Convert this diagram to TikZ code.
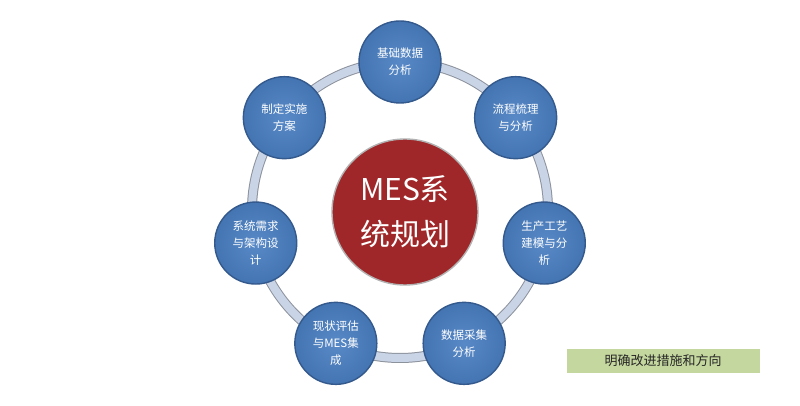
\documentclass[tikz,border=0pt]{standalone}
\usepackage{fontspec}
\setmainfont{Noto Sans CJK SC}
\definecolor{ringgray}{HTML}{8C929C}
\definecolor{ringfill}{HTML}{C9D4E6}
\definecolor{stepblue}{HTML}{4A7FC2}
\definecolor{stepedge}{HTML}{34598C}
\definecolor{hubred}{HTML}{9F2729}
\definecolor{notegreen}{HTML}{C4D79E}
\begin{document}
\begin{tikzpicture}[x=1pt,y=1pt,
   stepball/.style={circle, minimum size=82pt, inner sep=0pt,
      draw=stepedge, line width=1.4pt,
      shading=radial, inner color=stepblue!92!white, outer color=stepblue!92!black,
      text=white, font=\fontsize{11.5}{17}\selectfont, align=center},
   hubball/.style={circle, minimum size=146pt, inner sep=0pt,
      draw=gray!60, line width=1.4pt, fill=hubred,
      text=white, font=\fontsize{30}{45}\selectfont, align=center},
   notebox/.style={fill=notegreen, minimum width=193pt, minimum height=24pt,
      font=\fontsize{13}{15}\selectfont, text=black!85}]

\useasboundingbox (-400,-196) rectangle (400,210);
\fill[white] (-400,-196) rectangle (400,210);

% ring
\draw[ringgray, line width=1pt, double=ringfill, double distance=8pt] (0,0) circle (148);

\node[hubball] (hub) at (5,-2) {MES系\\统规划};

\node[stepball] (jichu)  at (90:148)     {基础数据\\分析};
\node[stepball] (liucheng) at (38.6:148) {流程梳理\\与分析};
\node[stepball] (jianmo) at (-12.9:148)  {生产工艺\\建模与分\\析};
\node[stepball] (caiji)  at (-64.3:148)  {数据采集\\分析};
\node[stepball] (xianzhuang) at (-115.7:148) {现状评估\\与MES集\\成};
\node[stepball] (xuqiu)  at (-167.1:148) {系统需求\\与架构设\\计};
\node[stepball] (fangan) at (141.4:148)  {制定实施\\方案};

\node[notebox] (gaijin) at (263,-151) {明确改进措施和方向};

\end{tikzpicture}
\end{document}
